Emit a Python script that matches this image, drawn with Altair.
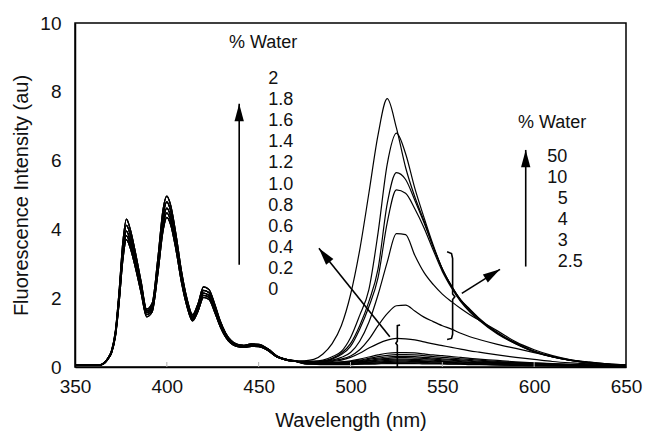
import math
import altair as alt
import pandas as pd

FONT = "Liberation Sans"
INK = "#111111"

# ---------------- data ----------------
WL_MONO = [350, 360, 364, 366, 368, 370, 372, 374, 376, 378, 380, 383, 386, 389, 392, 395, 398, 400, 402, 405,
           408, 411, 414, 417, 420, 423, 426, 429, 432, 435, 438, 442, 446, 450, 455, 460, 465, 470]
WL_EXC = [475, 480, 485, 490, 495, 500, 505, 510, 515, 520, 525, 530, 535, 540, 545, 550, 555, 560, 565, 570,
          580, 590, 600, 610, 620, 630, 640, 650]

MONO_1 = [0.05, 0.05, 0.07, 0.13, 0.27, 0.5, 1.05, 2.2, 3.6, 4.3, 4.02, 3.3, 2.48, 1.68, 1.85, 3.1, 4.6, 4.97, 4.72, 3.85,
          2.78, 1.98, 1.52, 1.85, 2.33, 2.25, 1.84, 1.35, 0.99, 0.77, 0.67, 0.63, 0.67, 0.66, 0.53, 0.32, 0.22, 0.18]
MONO_2 = [0.05, 0.05, 0.06, 0.12, 0.26, 0.47, 1.0, 2.1, 3.45, 4.12, 3.86, 3.18, 2.4, 1.63, 1.78, 2.97, 4.42, 4.8, 4.56, 3.72,
          2.7, 1.92, 1.47, 1.78, 2.23, 2.16, 1.77, 1.3, 0.96, 0.75, 0.65, 0.62, 0.65, 0.64, 0.52, 0.31, 0.22, 0.17]
MONO_3 = [0.05, 0.05, 0.06, 0.12, 0.25, 0.45, 0.95, 2.0, 3.3, 3.95, 3.7, 3.05, 2.3, 1.58, 1.72, 2.85, 4.25, 4.62, 4.4, 3.6,
          2.6, 1.85, 1.42, 1.72, 2.15, 2.08, 1.7, 1.25, 0.92, 0.72, 0.63, 0.6, 0.63, 0.62, 0.5, 0.3, 0.21, 0.17]
MONO_4 = [0.05, 0.05, 0.06, 0.11, 0.24, 0.44, 0.92, 1.92, 3.18, 3.82, 3.58, 2.95, 2.22, 1.52, 1.66, 2.75, 4.12, 4.48, 4.27, 3.5,
          2.52, 1.8, 1.38, 1.66, 2.08, 2.02, 1.65, 1.21, 0.9, 0.7, 0.61, 0.58, 0.61, 0.6, 0.49, 0.29, 0.2, 0.16]
MONO_5 = [0.05, 0.05, 0.06, 0.11, 0.23, 0.42, 0.88, 1.85, 3.08, 3.7, 3.47, 2.86, 2.15, 1.46, 1.6, 2.66, 3.98, 4.35, 4.15, 3.4,
          2.45, 1.75, 1.34, 1.62, 2.02, 1.96, 1.6, 1.18, 0.87, 0.68, 0.6, 0.57, 0.6, 0.59, 0.48, 0.29, 0.2, 0.16]

EXC_50 = [0.18, 0.22, 0.38, 0.68, 1.2, 2.1, 3.4, 5.05, 6.75, 7.8, 6.95, 5.8, 4.95, 4.25, 3.5, 2.85, 2.35, 1.95, 1.68, 1.42,
          1.0, 0.7, 0.46, 0.3, 0.19, 0.12, 0.08, 0.06]
EXC_10 = [0.17, 0.17, 0.2, 0.3, 0.45, 0.85, 1.5, 2.25, 3.9, 5.9, 6.8, 6.2, 5.2, 4.35, 3.55, 2.85, 2.35, 1.95, 1.66, 1.4,
          0.99, 0.69, 0.45, 0.3, 0.19, 0.12, 0.08, 0.06]
EXC_5 = [0.16, 0.16, 0.18, 0.25, 0.4, 0.68, 1.2, 1.9, 2.85, 4.75, 5.65, 5.45, 4.85, 4.2, 3.5, 2.85, 2.35, 1.93, 1.64, 1.39,
         0.98, 0.68, 0.45, 0.29, 0.19, 0.12, 0.08, 0.06]
EXC_4 = [0.16, 0.16, 0.17, 0.23, 0.36, 0.6, 1.1, 1.75, 2.6, 4.2, 5.15, 5.05, 4.6, 4.05, 3.4, 2.78, 2.3, 1.9, 1.6, 1.36,
         0.96, 0.67, 0.44, 0.29, 0.19, 0.12, 0.08, 0.06]
EXC_3 = [0.15, 0.15, 0.16, 0.2, 0.28, 0.42, 0.75, 1.3, 2.1, 3.05, 3.88, 3.85, 3.25, 2.75, 2.4, 2.12, 1.9, 1.7, 1.52, 1.36,
         1.05, 0.73, 0.5, 0.33, 0.21, 0.14, 0.09, 0.06]
EXC_2_5 = [0.14, 0.14, 0.15, 0.18, 0.23, 0.32, 0.5, 0.8, 1.2, 1.55, 1.78, 1.8, 1.63, 1.45, 1.32, 1.2, 1.1, 0.98, 0.88, 0.8,
           0.66, 0.54, 0.42, 0.3, 0.2, 0.14, 0.09, 0.06]
EXC_2 = [0.13, 0.13, 0.14, 0.16, 0.2, 0.28, 0.4, 0.55, 0.68, 0.78, 0.83, 0.82, 0.79, 0.73, 0.67, 0.62, 0.57, 0.52, 0.47, 0.43,
         0.35, 0.28, 0.22, 0.16, 0.12, 0.09, 0.07, 0.05]
EXC_1_8 = [0.13, 0.12, 0.12, 0.13, 0.15, 0.18, 0.23, 0.29, 0.35, 0.4, 0.42, 0.42, 0.41, 0.38, 0.35, 0.33, 0.3, 0.28, 0.25, 0.23,
           0.19, 0.15, 0.12, 0.1, 0.08, 0.06, 0.05, 0.04]
EXC_1_6 = [0.13, 0.12, 0.12, 0.12, 0.14, 0.16, 0.2, 0.25, 0.3, 0.34, 0.36, 0.36, 0.35, 0.33, 0.3, 0.28, 0.26, 0.24, 0.22, 0.2,
           0.16, 0.13, 0.11, 0.09, 0.07, 0.06, 0.05, 0.04]
EXC_1_4 = [0.12, 0.12, 0.11, 0.12, 0.13, 0.15, 0.18, 0.22, 0.26, 0.29, 0.31, 0.31, 0.3, 0.28, 0.26, 0.24, 0.22, 0.21, 0.19, 0.17,
           0.14, 0.12, 0.1, 0.08, 0.07, 0.05, 0.05, 0.04]
EXC_1_2 = [0.12, 0.11, 0.11, 0.11, 0.12, 0.14, 0.16, 0.19, 0.23, 0.25, 0.27, 0.27, 0.26, 0.25, 0.23, 0.21, 0.2, 0.18, 0.17, 0.15,
           0.13, 0.11, 0.09, 0.07, 0.06, 0.05, 0.04, 0.04]
EXC_1_0 = [0.12, 0.11, 0.1, 0.1, 0.11, 0.13, 0.15, 0.17, 0.2, 0.22, 0.23, 0.23, 0.22, 0.21, 0.2, 0.18, 0.17, 0.16, 0.14, 0.13,
           0.11, 0.09, 0.08, 0.07, 0.06, 0.05, 0.04, 0.03]
EXC_0_8 = [0.11, 0.1, 0.1, 0.1, 0.1, 0.11, 0.13, 0.15, 0.17, 0.19, 0.2, 0.2, 0.19, 0.18, 0.17, 0.16, 0.15, 0.14, 0.13, 0.12,
           0.1, 0.08, 0.07, 0.06, 0.05, 0.04, 0.04, 0.03]
EXC_0_6 = [0.11, 0.1, 0.09, 0.09, 0.09, 0.1, 0.12, 0.13, 0.15, 0.16, 0.17, 0.17, 0.16, 0.16, 0.15, 0.14, 0.13, 0.12, 0.11, 0.1,
           0.09, 0.07, 0.06, 0.05, 0.04, 0.04, 0.03, 0.03]
EXC_0_4 = [0.1, 0.09, 0.09, 0.08, 0.08, 0.09, 0.1, 0.11, 0.12, 0.13, 0.14, 0.14, 0.14, 0.13, 0.12, 0.12, 0.11, 0.1, 0.09, 0.09,
           0.07, 0.06, 0.05, 0.04, 0.04, 0.03, 0.03, 0.02]
EXC_0_2 = [0.1, 0.09, 0.08, 0.08, 0.08, 0.08, 0.09, 0.1, 0.11, 0.12, 0.12, 0.12, 0.12, 0.11, 0.11, 0.1, 0.09, 0.09, 0.08, 0.08,
           0.06, 0.05, 0.05, 0.04, 0.03, 0.03, 0.03, 0.02]
EXC_0 = [0.09, 0.08, 0.07, 0.07, 0.07, 0.07, 0.08, 0.08, 0.09, 0.1, 0.1, 0.1, 0.1, 0.09, 0.09, 0.09, 0.08, 0.08, 0.07, 0.07,
         0.06, 0.05, 0.04, 0.04, 0.03, 0.03, 0.02, 0.02]

# series name -> (monomer part, excimer part)
SERIES = {
    "0": (MONO_3, EXC_0), "0.2": (MONO_1, EXC_0_2), "0.4": (MONO_4, EXC_0_4), "0.6": (MONO_2, EXC_0_6),
    "0.8": (MONO_5, EXC_0_8), "1.0": (MONO_3, EXC_1_0), "1.2": (MONO_1, EXC_1_2), "1.4": (MONO_2, EXC_1_4),
    "1.6": (MONO_4, EXC_1_6), "1.8": (MONO_3, EXC_1_8), "2": (MONO_5, EXC_2), "2.5": (MONO_2, EXC_2_5),
    "3": (MONO_4, EXC_3), "4": (MONO_1, EXC_4), "5": (MONO_3, EXC_5), "10": (MONO_5, EXC_10), "50": (MONO_2, EXC_50),
}

LEFT_TITLE = "% Water"
LEFT_LIST = ["2", "1.8", "1.6", "1.4", "1.2", "1.0", "0.8", "0.6", "0.4", "0.2", "0"]
RIGHT_TITLE = "% Water"
RIGHT_LIST = ["50", "10", "5", "4", "3", "2.5"]

X_TICKS = [350, 400, 450, 500, 550, 600, 650]
Y_TICKS = [0, 2, 4, 6, 8, 10]

# annotation geometry in data units (nm, au)
ARROWS = [  # tail x, tail y, tip x, tip y
    (439.4, 2.97, 439.4, 7.65),
    (521.4, 0.88, 482.8, 3.45),
    (560.6, 2.14, 581.4, 2.84),
    (595.4, 2.92, 595.4, 6.31),
]
BRACKET_SMALL = [(527.0, 1.22), (525.5, 1.2), (525.5, 0.75), (524.7, 0.69), (525.5, 0.63), (525.5, 0.0)]
BRACKET_BIG = [(552.6, 3.35), (555.0, 3.3), (555.6, 3.15), (555.6, 2.12), (556.8, 2.04), (555.6, 1.96),
               (555.6, 0.95), (555.0, 0.83), (552.6, 0.8)]

# ---------------- layout ----------------
W, H = 551, 344
XMIN, XMAX, YMIN, YMAX = 350, 650, 0, 10
PX_X = W / (XMAX - XMIN)
PX_Y = H / (YMAX - YMIN)

xs = alt.Scale(domain=[XMIN, XMAX], nice=False, zero=False)
ys = alt.Scale(domain=[YMIN, YMAX], nice=False)

x_axis = alt.Axis(values=X_TICKS, title="Wavelength (nm)", grid=False, ticks=False, labelPadding=10,
                  labelFontSize=19, titleFontSize=20, titleFontWeight="normal", titleY=43, titleBaseline="top",
                  labelFont=FONT, titleFont=FONT, labelColor=INK, titleColor=INK,
                  domainColor="black", domainWidth=1.5, labelFlush=False)
y_axis = alt.Axis(values=Y_TICKS, title="Fluorescence Intensity (au)", grid=False, ticks=False, labelPadding=14,
                  labelFontSize=19, titleFontSize=20, titleFontWeight="normal", titleX=-54, titleY=H / 2,
                  titleAngle=270, titleAlign="center", titleBaseline="middle",
                  labelFont=FONT, titleFont=FONT, labelColor=INK, titleColor=INK,
                  domainColor="black", domainWidth=1.5, labelFlush=False)


def X(field):
    return alt.X(field, type="quantitative", scale=xs, axis=x_axis, title="Wavelength (nm)")


def Y(field):
    return alt.Y(field, type="quantitative", scale=ys, axis=y_axis, title="Fluorescence Intensity (au)")


rows = []
for name, (mono, exc) in SERIES.items():
    for w, v in zip(WL_MONO + WL_EXC, mono + exc):
        rows.append({"series": name, "wl": w, "val": v})
df = pd.DataFrame(rows)

lines = alt.Chart(df).mark_line(color="black", strokeWidth=1.2, clip=True, interpolate="monotone").encode(
    x=X("wl"), y=Y("val"), detail="series:N", order="wl:Q"
)

tick_df = pd.DataFrame({"t": X_TICKS[1:-1]})
inner_ticks = alt.Chart(tick_df).mark_rule(color="#b0b0b0", strokeWidth=1).encode(
    x=X("t"), y=alt.value(H), y2=alt.value(H - 5)
)

# arrows
arr_rows = []
for i, (tx, ty, hx, hy) in enumerate(ARROWS):
    dx = (hx - tx) * PX_X
    dy = -(hy - ty) * PX_Y
    ang = math.degrees(math.atan2(dx, -dy)) % 360
    arr_rows.append({"tx": tx, "ty": ty, "hx": hx, "hy": hy, "ang": ang})
arr_df = pd.DataFrame(arr_rows)
shafts = alt.Chart(arr_df).mark_rule(color="black", strokeWidth=1.6).encode(
    x=X("tx"), y=Y("ty"), x2="hx", y2="hy"
)
heads = alt.Chart(arr_df).mark_point(shape="M0,0L-0.27,1L0.27,1Z", filled=True, size=1200, color="black",
                                      opacity=1, strokeWidth=0).encode(
    x=X("hx"), y=Y("hy"), angle=alt.Angle("ang:Q", scale=None)
)

br_rows = []
for gname, pts in (("s", BRACKET_SMALL), ("b", BRACKET_BIG)):
    for k, (bx, by) in enumerate(pts):
        br_rows.append({"g": gname, "k": k, "bx": bx, "by": by})
br_df = pd.DataFrame(br_rows)
brackets = alt.Chart(br_df).mark_line(color="black", strokeWidth=1.6).encode(
    x=X("bx"), y=Y("by"), detail="g:N", order="k:Q"
)

# texts
LINE_STEP = 21.1 / PX_Y
txt_rows = [{"t": LEFT_TITLE, "x": 433.8, "y": 9.42}, {"t": RIGHT_TITLE, "x": 591.2, "y": 7.08}]
for i, lab in enumerate(LEFT_LIST):
    txt_rows.append({"t": lab, "x": 455.2, "y": 8.37 - i * LINE_STEP})
for i, lab in enumerate(RIGHT_LIST):
    two_digit = len(lab.split(".")[0]) == 2
    txt_rows.append({"t": lab, "x": 607.1 if two_digit else 612.8, "y": 6.11 - i * (21.0 / PX_Y)})
txt_df = pd.DataFrame(txt_rows)
texts = alt.Chart(txt_df).mark_text(align="left", baseline="middle", fontSize=18, font=FONT, color=INK).encode(
    x=X("x"), y=Y("y"), text="t:N"
)

chart = alt.layer(lines, inner_ticks, shafts, heads, brackets, texts).properties(
    width=W, height=H,
    autosize=alt.AutoSizeParams(type="none"),
    padding={"left": 67, "top": 15, "right": 17, "bottom": 70},
).configure_view(stroke="black", strokeWidth=1.5)

chart.save("out.html", embed_options={"renderer": "svg", "actions": False})
